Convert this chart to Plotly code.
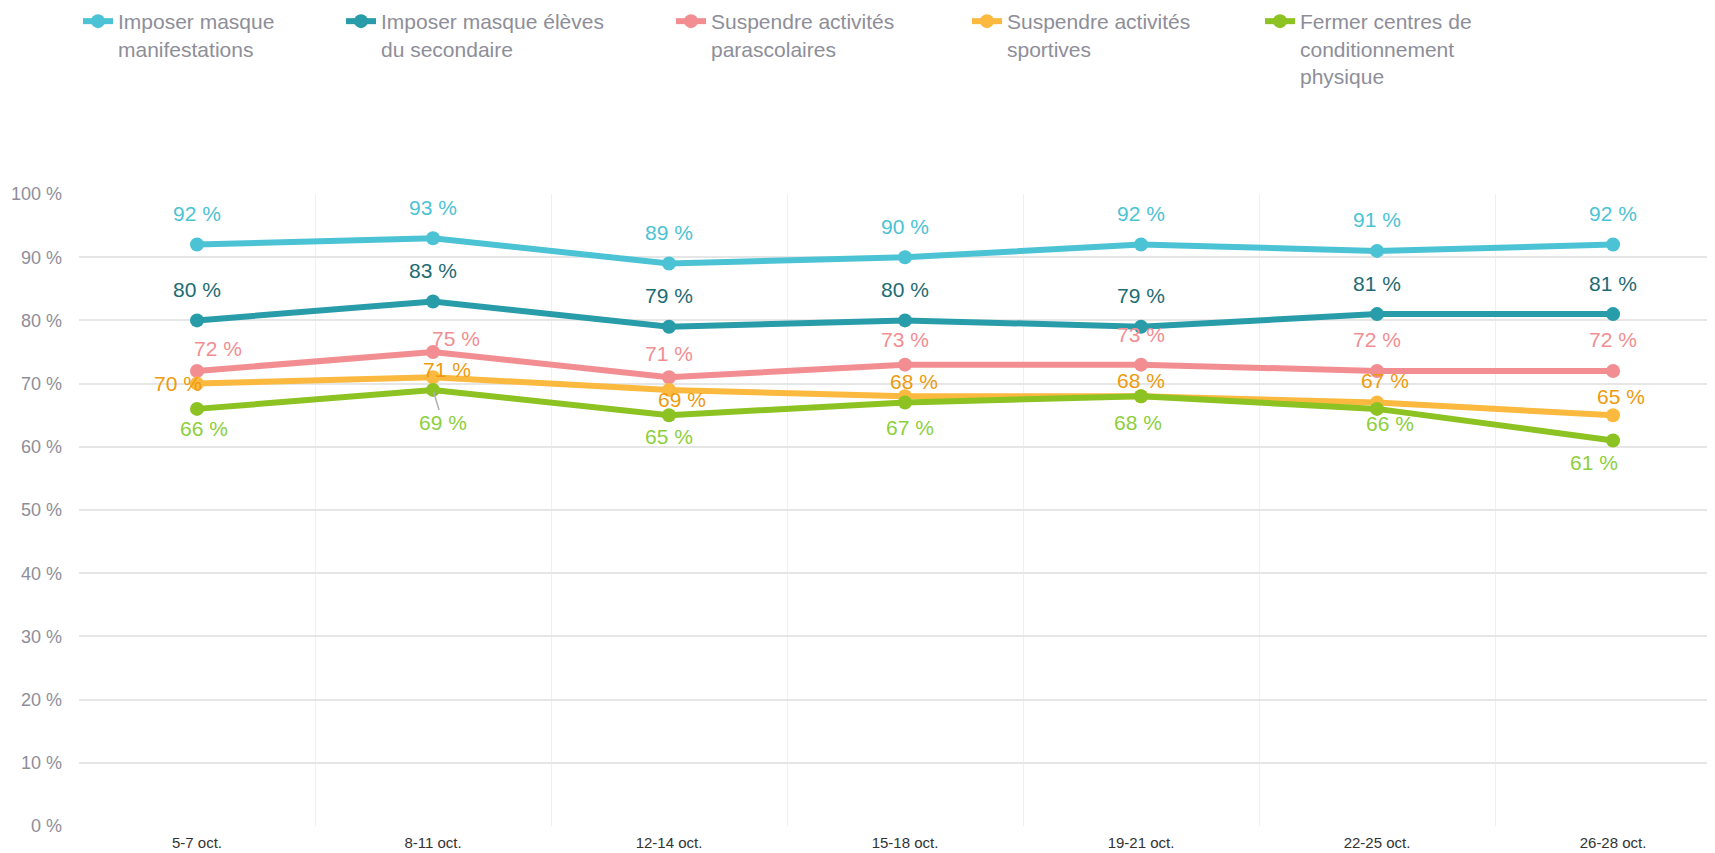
import plotly.graph_objects as go

# Semaines de sondage
weeks = ['5-7 oct.', '8-11 oct.', '12-14 oct.', '15-18 oct.', '19-21 oct.', '22-25 oct.', '26-28 oct.']

# Appui aux mesures (%)
masque_manifs = [92, 93, 89, 90, 92, 91, 92]
masque_secondaire = [80, 83, 79, 80, 79, 81, 81]
parascolaires = [72, 75, 71, 73, 73, 72, 72]
sportives = [70, 71, 69, 68, 68, 67, 65]
conditionnement = [66, 69, 65, 67, 68, 66, 61]

series_names = [
    'Imposer masque<br>manifestations',
    'Imposer masque élèves<br>du secondaire',
    'Suspendre activités<br>parascolaires',
    'Suspendre activités<br>sportives',
    'Fermer centres de<br>conditionnement<br>physique',
]
series_values = [masque_manifs, masque_secondaire, parascolaires, sportives, conditionnement]

line_colors = ['#4bc3d4', '#289ca9', '#f28e92', '#fbb940', '#8cc221']
label_colors = ['#4bc3d4', '#1e6b74', '#f28e92', '#ee9a0e', '#8ccf3c']

# décalage des étiquettes (px) : (dx, vers le haut)
label_offsets = [
    [(0, 31)] * 7,
    [(0, 31)] * 7,
    [(21, 22), (23, 14), (0, 24), (0, 25), (0, 30), (0, 31), (0, 31)],
    [(-19, 0), (14, 8), (13, -10), (9, 15), (0, 16), (8, 22), (8, 19)],
    [(7, -20), (10, -33), (0, -21), (5, -25), (-3, -26), (13, -15), (-19, -22)],
]
legend_text_x = [110, 373, 703, 999, 1292]

# la page ajoute une marge de 8 px autour de la figure
W, H = 1707, 845
TOP, BOTTOM = 186, 27
font = 'Liberation Sans, Arial, sans-serif'

fig = go.Figure()
annotations = []
for i, (name, vals) in enumerate(zip(series_names, series_values)):
    leg = 'legend' if i == 0 else f'legend{i + 1}'
    fig.add_trace(go.Scatter(
        x=weeks, y=vals, mode='lines+markers', name=name,
        line=dict(color=line_colors[i], width=6),
        marker=dict(color=line_colors[i], size=14),
        legend=leg, hoverinfo='skip',
    ))
    for j, v in enumerate(vals):
        dx, dy = label_offsets[i][j]
        ann = dict(x=weeks[j], y=v, text=f'{v} %', showarrow=False,
                   xshift=dx, yshift=dy,
                   font=dict(family=font, size=21, color=label_colors[i]))
        if i == 4 and j == 1:
            # petit trait de rappel vers le point
            ann.update(showarrow=True, xshift=0, yshift=0, ax=dx, ay=-dy,
                       arrowhead=0, arrowwidth=1.5, arrowcolor='#b0b0b0', standoff=2)
        annotations.append(ann)

plot_h = H - TOP - BOTTOM
layout_legends = {}
for i in range(5):
    key = 'legend' if i == 0 else f'legend{i + 1}'
    layout_legends[key] = dict(
        xref='container', yref='paper',
        x=(legend_text_x[i] - 40) / W, y=1 + (TOP + 7) / plot_h,
        xanchor='left', yanchor='top', valign='top',
        bgcolor='rgba(0,0,0,0)', borderwidth=0,
        font=dict(family=font, size=21, color='#8e8e99'),
    )

fig.update_layout(
    width=W, height=H,
    margin=dict(l=71, r=0, t=TOP, b=BOTTOM, autoexpand=False),
    plot_bgcolor='white', paper_bgcolor='white',
    font=dict(family=font),
    showlegend=True,
    annotations=annotations,
    **layout_legends,
)

fig.update_xaxes(
    type='category', tickson='boundaries', range=[-0.5, 6.432],
    showgrid=True, gridcolor='#f0f0f0', gridwidth=1,
    ticks='', showline=False, zeroline=False, tickangle=0,
    tickfont=dict(family=font, size=15, color='#333333'),
    ticklabelstandoff=6,
)
fig.update_yaxes(
    range=[0, 100], dtick=10, ticksuffix=' %',
    showgrid=True, gridcolor='#e6e6e6', gridwidth=2,
    zeroline=False, showline=False, ticks='',
    tickfont=dict(family=font, size=18, color='#8e8e99'),
    ticklabelstandoff=16,
)

fig.write_html('out.html')
